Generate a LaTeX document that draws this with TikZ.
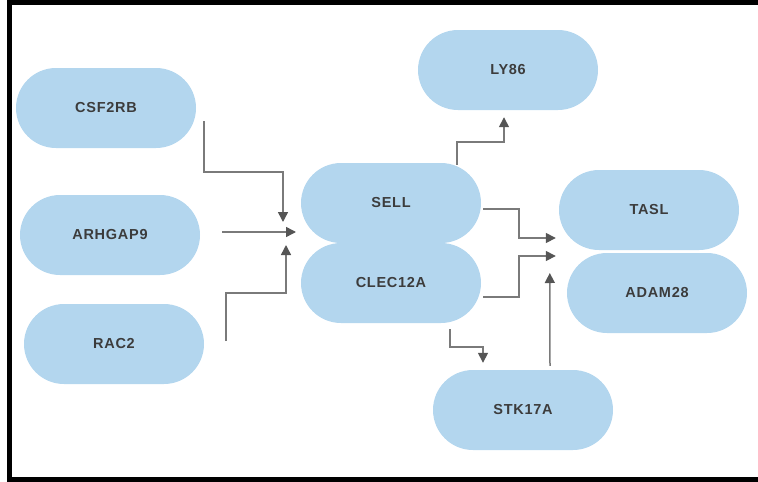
\documentclass[tikz,border=0pt]{standalone}
\usepackage{fontspec}
\setmainfont{Liberation Sans}
\newfontfamily\genefont[LetterSpace=5]{Liberation Sans}
\usepackage{tikz}
\usetikzlibrary{arrows.meta, positioning, calc}
\definecolor{genefill}{HTML}{B3D6EE}
\definecolor{genetext}{HTML}{3C3C3C}
\definecolor{linkgray}{HTML}{7A7A7A}
\definecolor{tipgray}{HTML}{555555}

\begin{document}
\begin{tikzpicture}[x=1pt, y=-1pt,
    gene/.style={draw=none, fill=genefill, rounded corners=40pt, minimum width=180pt,
        minimum height=80pt, text=genetext, font=\genefont\bfseries\fontsize{14.5}{16}\selectfont},
    link/.style={draw=linkgray, line width=1.5pt,
        -{Triangle[length=10pt, width=10pt, color=tipgray]}}]
\useasboundingbox (0,0) rectangle (758,482);
% Frame
\draw[line width=5pt] (9,2) rectangle (760.5,479);

% Input genes
\node[gene] (csf2rb) at (106,108) {CSF2RB};
\node[gene] (arhgap9) at (110,235) {ARHGAP9};
\node[gene] (rac2) at (114,344) {RAC2};

% Central pair
\node[gene] (sell) at (391,203) {SELL};
\node[gene] (clec12a) at (391,283) {CLEC12A};

% Targets
\node[gene] (ly86) at (508,70) {LY86};
\node[gene] (tasl) at (649,210) {TASL};
\node[gene] (adam28) at (657,293) {ADAM28};
\node[gene] (stk17a) at (523,410) {STK17A};

% Free arrow ends
\coordinate (hubN) at (283,222);
\coordinate (hubW) at (296,232);
\coordinate (hubS) at (286,245);
\coordinate (lyin) at ($(ly86.south)+(-4,7)$);
\coordinate (taslinA) at ($(tasl.west)+(-3,28)$);
\coordinate (taslinB) at ($(tasl.west)+(-3,46)$);
\coordinate (taslinC) at ($(tasl.west)+(-9,63)$);
\coordinate (stkin) at ($(stk17a.north)+(-40,-7)$);

% Links into SELL / CLEC12A
\draw[link] ($(csf2rb.east)+(8,13)$) |- ($(hubN)+(0,-50)$) -- (hubN);
\draw[link] ($(arhgap9.east)+(22,-3)$) -- (hubW);
\draw[link] ($(rac2.east)+(22,-3)$) |- ($(hubS)+(0,48)$) -- (hubS);

% Links out
\draw[link] ($(sell.north)+(66,2)$) |- ($(lyin)+(0,25)$) -- (lyin);
\draw[link] ($(sell.east)+(2,6)$) -| ($(taslinA)+(-37,0)$) -- (taslinA);
\draw[link] ($(clec12a.east)+(2,14)$) -| ($(taslinB)+(-37,0)$) -- (taslinB);
\draw[link] ($(clec12a.south)+(59,6)$) |- ($(stkin)+(0,-16)$) -- (stkin);
\draw[link] ($(stk17a.north)+(27,-4)$) -- (taslinC);
\end{tikzpicture}
\end{document}
